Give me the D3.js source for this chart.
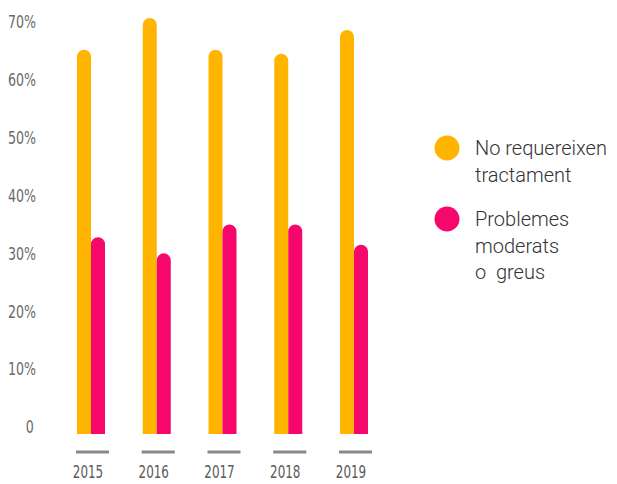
<!DOCTYPE html>
<html>
<head>
<meta charset="utf-8">
<script src="https://cdnjs.cloudflare.com/ajax/libs/d3/7.8.5/d3.min.js"></script>
<style>
  body { margin: 0; background: #fff; }
  svg { display: block; }
</style>
</head>
<body>
<div class="chart"></div>
<script>
var width = 617, height = 484;

// data
var years = ["2015", "2016", "2017", "2018", "2019"];
var noTreatment = [64, 69.5, 64, 63.3, 67.4];   // No requereixen tractament
var problems = [31.6, 28.8, 33.8, 33.8, 30.3];  // Problemes moderats o greus
var yTicks = [0, 10, 20, 30, 40, 50, 60, 70];
var legendLabels = [["No requereixen", "tractament"], ["Problemes", "moderats", "o  greus"]];

var orange = "#FFB400", pink = "#F5076C";
var barW = 14;

var svg = d3.select(".chart").append("svg")
    .attr("width", width)
    .attr("height", height);

// scales
var x = d3.scalePoint().domain(years).range([91, 354]);
var y = d3.scaleLinear().domain([0, 70]).range([427, 22]);
var bottom = y(0) + 7;

// y axis labels only
var yAxis = svg.append("g")
    .attr("transform", "translate(36,0)")
    .call(d3.axisLeft(y).tickValues(yTicks).tickSize(0).tickPadding(0)
        .tickFormat(function (d) { return d === 0 ? "0" : d + "%"; }));
yAxis.select(".domain").remove();
yAxis.selectAll("text")
    .attr("x", function (d) { return d === 0 ? -3 : 0; })
    .attr("transform", "scale(0.78,1)")
    .style("font-family", "'Liberation Sans Narrow', 'DejaVu Sans Condensed', sans-serif")
    .style("font-size", "18px")
    .style("fill", "#6a6a6a");

// bar with rounded top
function barPath(x0, v) {
    var top = y(v), r = barW / 2;
    return "M" + x0 + "," + bottom + "V" + top +
        "A" + r + "," + r + " 0 0 1 " + (x0 + barW) + "," + top +
        "V" + bottom + "Z";
}

var groups = svg.selectAll(".year")
    .data(years)
    .enter().append("g")
    .attr("class", "year");

groups.append("path")
    .attr("d", function (d, i) { return barPath(x(d) - barW, noTreatment[i]); })
    .attr("fill", orange);

groups.append("path")
    .attr("d", function (d, i) { return barPath(x(d), problems[i]); })
    .attr("fill", pink);

// grey dashes under each year
groups.append("line")
    .attr("x1", function (d) { return x(d) - 15; })
    .attr("x2", function (d) { return x(d) + 18; })
    .attr("y1", 452).attr("y2", 452)
    .attr("stroke", "#888")
    .attr("stroke-width", 3);

groups.append("text")
    .attr("transform", function (d) { return "translate(" + (x(d) - 3) + ",478) scale(0.78,1)"; })
    .attr("text-anchor", "middle")
    .style("font-family", "'Liberation Sans Narrow', 'DejaVu Sans Condensed', sans-serif")
    .style("font-size", "17px")
    .style("fill", "#5a5a5a")
    .text(function (d) { return d; });

// legend
var legend = svg.selectAll(".legend")
    .data(legendLabels)
    .enter().append("g")
    .attr("class", "legend")
    .attr("transform", function (d, i) { return "translate(447," + (i === 0 ? 148 : 219) + ")"; });

legend.append("circle")
    .attr("r", 12.5)
    .attr("fill", function (d, i) { return i === 0 ? orange : pink; });

legend.append("text")
    .attr("x", 28)
    .attr("y", 7)
    .style("font-family", "Roboto, sans-serif")
    .style("font-size", "20px")
    .style("font-weight", 300)
    .style("fill", "#333")
    .selectAll("tspan")
    .data(function (d) { return d; })
    .enter().append("tspan")
    .attr("x", 28)
    .attr("dy", function (d, i) { return i === 0 ? 0 : 26.5; })
    .style("white-space", "pre")
    .text(function (d) { return d; });
</script>
</body>
</html>
